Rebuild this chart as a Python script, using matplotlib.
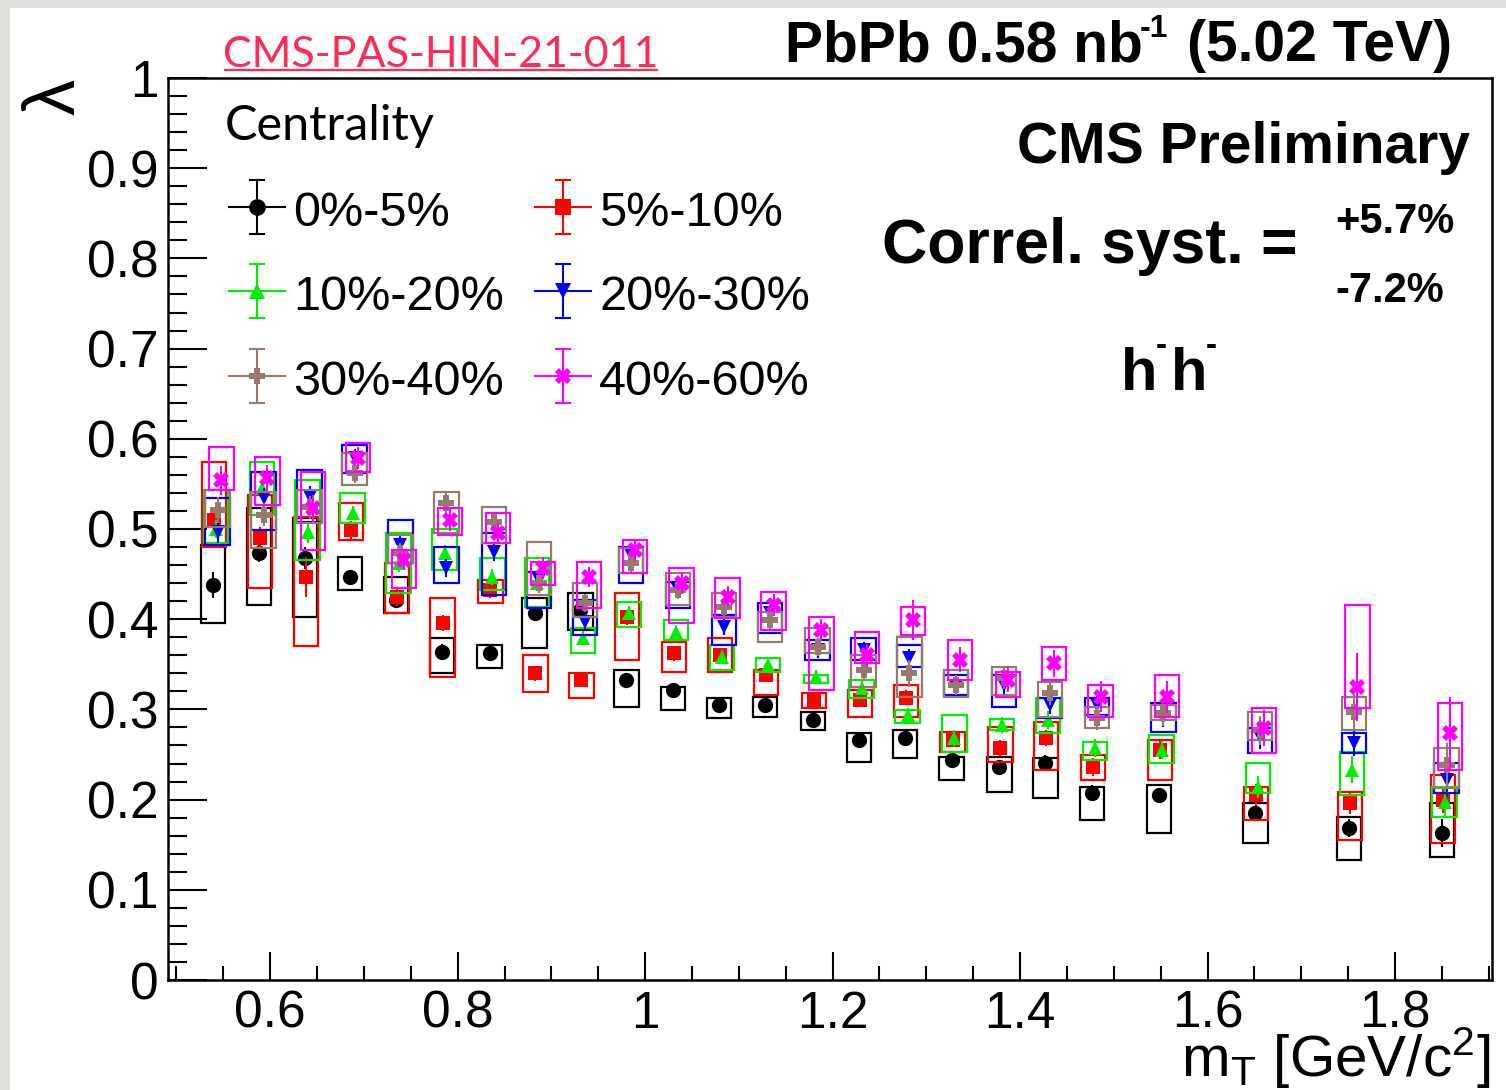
import matplotlib
matplotlib.use("Agg")
import matplotlib.pyplot as plt
from matplotlib.patches import Rectangle
from matplotlib.lines import Line2D

plt.rcParams['font.family'] = ['Liberation Sans', 'DejaVu Sans']
plt.rcParams['mathtext.fontset'] = 'custom'
plt.rcParams['mathtext.rm'] = 'Liberation Sans'
plt.rcParams['mathtext.it'] = 'Liberation Sans'
plt.rcParams['mathtext.bf'] = 'Liberation Sans:bold'

# mT bin centres (0-5% centrality), GeV/c^2
mt = [0.539, 0.588, 0.637, 0.685, 0.734, 0.783, 0.834, 0.882, 0.931, 0.980, 1.030, 1.079,
      1.128, 1.179, 1.228, 1.277, 1.327, 1.378, 1.427, 1.477, 1.548, 1.651, 1.751, 1.850]
# small shift of mean mT for each centrality class
mt_shift = [0.0, 0.001, 0.003, 0.005, 0.005, 0.009]

labels = ["0%-5%", "5%-10%", "10%-20%", "20%-30%", "30%-40%", "40%-60%"]
colors = ["black", "#ff0000", "#00ee00", "#0000ff", "#967b6c", "#ff00ff"]
markers = ["o", "s", "^", "v", "P", "X"]

lam_0_5 = [0.438, 0.473, 0.468, 0.447, 0.421, 0.364, 0.362, 0.407, 0.410, 0.333, 0.322, 0.305,
           0.305, 0.288, 0.266, 0.268, 0.244, 0.236, 0.241, 0.207, 0.205, 0.185, 0.169, 0.163]
lo_0_5 = [0.396, 0.416, 0.402, 0.432, 0.407, 0.340, 0.346, 0.368, 0.388, 0.303, 0.299, 0.290,
          0.292, 0.277, 0.242, 0.246, 0.222, 0.208, 0.202, 0.177, 0.163, 0.152, 0.133, 0.136]
hi_0_5 = [0.482, 0.523, 0.512, 0.469, 0.447, 0.379, 0.371, 0.424, 0.429, 0.344, 0.325, 0.313,
          0.314, 0.297, 0.274, 0.277, 0.247, 0.247, 0.246, 0.214, 0.216, 0.196, 0.181, 0.196]
err_0_5 = [0.014, 0.010, 0.012, 0.008, 0.008, 0.008, 0.007, 0.008, 0.008, 0.007, 0.006, 0.006,
           0.006, 0.006, 0.006, 0.006, 0.007, 0.007, 0.008, 0.009, 0.008, 0.008, 0.010, 0.015]

lam_5_10 = [0.510, 0.490, 0.447, 0.499, 0.425, 0.396, 0.432, 0.340, 0.333, 0.402, 0.362, 0.360,
            0.338, 0.310, 0.310, 0.313, 0.266, 0.257, 0.268, 0.236, 0.255, 0.205, 0.196, 0.200]
lo_5_10 = [0.480, 0.435, 0.370, 0.488, 0.407, 0.336, 0.418, 0.319, 0.313, 0.355, 0.341, 0.341,
           0.316, 0.302, 0.292, 0.292, 0.253, 0.242, 0.233, 0.222, 0.222, 0.177, 0.155, 0.152]
hi_5_10 = [0.574, 0.538, 0.513, 0.529, 0.462, 0.423, 0.443, 0.360, 0.340, 0.429, 0.375, 0.379,
           0.344, 0.318, 0.322, 0.327, 0.275, 0.280, 0.286, 0.249, 0.266, 0.214, 0.208, 0.227]
err_5_10 = [0.012, 0.012, 0.022, 0.010, 0.010, 0.009, 0.009, 0.008, 0.008, 0.008, 0.008, 0.008,
            0.007, 0.007, 0.007, 0.008, 0.008, 0.009, 0.009, 0.010, 0.010, 0.012, 0.012, 0.015]

lam_10_20 = [0.500, 0.545, 0.497, 0.518, 0.462, 0.473, 0.447, 0.440, 0.379, 0.407, 0.386, 0.358,
             0.349, 0.336, 0.324, 0.294, 0.268, 0.283, 0.288, 0.257, 0.255, 0.214, 0.233, 0.197]
lo_10_20 = [0.484, 0.516, 0.466, 0.507, 0.429, 0.455, 0.432, 0.414, 0.362, 0.391, 0.377, 0.344,
            0.341, 0.329, 0.313, 0.285, 0.253, 0.277, 0.274, 0.244, 0.241, 0.207, 0.205, 0.181]
hi_10_20 = [0.543, 0.574, 0.554, 0.540, 0.496, 0.500, 0.468, 0.468, 0.390, 0.419, 0.399, 0.371,
            0.357, 0.338, 0.333, 0.299, 0.294, 0.289, 0.313, 0.264, 0.272, 0.241, 0.253, 0.214]
err_10_20 = [0.010, 0.010, 0.012, 0.008, 0.010, 0.009, 0.009, 0.009, 0.008, 0.008, 0.008, 0.008,
             0.008, 0.008, 0.008, 0.008, 0.009, 0.009, 0.010, 0.010, 0.010, 0.012, 0.015, 0.015]

lam_20_30 = [0.497, 0.534, 0.536, 0.579, 0.482, 0.457, 0.474, 0.443, 0.397, 0.471, 0.432, 0.391,
             0.407, 0.366, 0.366, 0.357, 0.325, 0.327, 0.305, 0.305, 0.292, 0.269, 0.263, 0.222]
lo_20_30 = [0.482, 0.499, 0.508, 0.562, 0.462, 0.440, 0.427, 0.412, 0.382, 0.440, 0.412, 0.371,
            0.385, 0.355, 0.355, 0.347, 0.316, 0.303, 0.290, 0.294, 0.275, 0.252, 0.252, 0.207]
hi_20_30 = [0.534, 0.563, 0.565, 0.593, 0.510, 0.480, 0.496, 0.452, 0.421, 0.480, 0.441, 0.405,
            0.418, 0.377, 0.379, 0.371, 0.338, 0.338, 0.313, 0.313, 0.307, 0.279, 0.274, 0.241]
err_20_30 = [0.012, 0.012, 0.012, 0.010, 0.010, 0.010, 0.010, 0.009, 0.009, 0.009, 0.009, 0.009,
             0.009, 0.009, 0.009, 0.010, 0.010, 0.010, 0.010, 0.011, 0.012, 0.013, 0.015, 0.018]

lam_30_40 = [0.521, 0.516, 0.524, 0.562, 0.473, 0.529, 0.508, 0.440, 0.418, 0.462, 0.432, 0.414,
             0.399, 0.369, 0.344, 0.340, 0.327, 0.335, 0.318, 0.290, 0.296, 0.277, 0.297, 0.238]
lo_30_40 = [0.502, 0.479, 0.507, 0.549, 0.462, 0.496, 0.484, 0.427, 0.402, 0.451, 0.416, 0.402,
            0.375, 0.362, 0.325, 0.314, 0.314, 0.316, 0.292, 0.279, 0.288, 0.266, 0.277, 0.213]
hi_30_40 = [0.543, 0.541, 0.543, 0.584, 0.493, 0.541, 0.524, 0.486, 0.440, 0.479, 0.451, 0.429,
            0.408, 0.390, 0.360, 0.380, 0.344, 0.347, 0.330, 0.303, 0.305, 0.297, 0.314, 0.257]
err_30_40 = [0.014, 0.013, 0.013, 0.011, 0.011, 0.011, 0.011, 0.011, 0.010, 0.010, 0.010, 0.010,
             0.010, 0.010, 0.012, 0.015, 0.011, 0.012, 0.013, 0.013, 0.014, 0.016, 0.020, 0.025]

lam_40_60 = [0.554, 0.556, 0.523, 0.579, 0.466, 0.510, 0.496, 0.457, 0.447, 0.477, 0.440, 0.425,
             0.416, 0.388, 0.360, 0.399, 0.355, 0.333, 0.351, 0.314, 0.314, 0.279, 0.325, 0.274]
lo_40_60 = [0.543, 0.527, 0.477, 0.563, 0.435, 0.493, 0.484, 0.438, 0.412, 0.451, 0.396, 0.401,
            0.388, 0.322, 0.351, 0.382, 0.333, 0.314, 0.333, 0.292, 0.292, 0.252, 0.302, 0.233]
hi_40_60 = [0.591, 0.580, 0.563, 0.595, 0.477, 0.523, 0.518, 0.463, 0.463, 0.488, 0.457, 0.446,
            0.430, 0.402, 0.386, 0.414, 0.377, 0.341, 0.369, 0.327, 0.338, 0.302, 0.416, 0.307]
err_40_60 = [0.016, 0.015, 0.015, 0.012, 0.012, 0.012, 0.012, 0.012, 0.011, 0.012, 0.012, 0.012,
             0.012, 0.012, 0.013, 0.022, 0.014, 0.014, 0.015, 0.017, 0.018, 0.020, 0.038, 0.040]

lam_all = [lam_0_5, lam_5_10, lam_10_20, lam_20_30, lam_30_40, lam_40_60]
lo_all = [lo_0_5, lo_5_10, lo_10_20, lo_20_30, lo_30_40, lo_40_60]
hi_all = [hi_0_5, hi_5_10, hi_10_20, hi_20_30, hi_30_40, hi_40_60]
err_all = [err_0_5, err_5_10, err_10_20, err_20_30, err_30_40, err_40_60]

W, H = 1506, 1090
fig = plt.figure(figsize=(W / 100, H / 100), dpi=100, facecolor="#e1dfdb")
fig.add_artist(Rectangle((10 / W, 0), 1 - 10 / W, 1 - 8 / H, transform=fig.transFigure,
                         facecolor="white", edgecolor="none", zorder=-10))

ax = fig.add_axes([168 / W, 1 - 980 / H, (1492 - 168) / W, 902 / H])
ax.set_xlim(0.491, 1.9035)
ax.set_ylim(0, 1)

box_w = 0.026
for i in range(6):
    xs = [m + mt_shift[i] for m in mt]
    heights = [h - l for h, l in zip(hi_all[i], lo_all[i])]
    ax.bar(xs, heights, width=box_w, bottom=lo_all[i], fill=False,
           edgecolor=colors[i], linewidth=1.6, zorder=2 + i)
    ms = 11 if markers[i] in ("o", "X", "P") else 10
    ax.errorbar(xs, lam_all[i], yerr=err_all[i], fmt=markers[i], color=colors[i],
                ms=ms, mew=0, elinewidth=1.5, capsize=5, capthick=1.5, zorder=2.5 + i)

for s in ax.spines.values():
    s.set_linewidth(1.8)
ax.set_xticks([0.6, 0.8, 1.0, 1.2, 1.4, 1.6, 1.8])
ax.set_xticklabels(["0.6", "0.8", "1", "1.2", "1.4", "1.6", "1.8"])
ax.set_xticks([0.5 + 0.05 * k for k in range(29)], minor=True)
ax.set_yticks([0.1 * k for k in range(11)])
ax.set_yticklabels(["0", "0.1", "0.2", "0.3", "0.4", "0.5", "0.6", "0.7", "0.8", "0.9", "1"])
ax.set_yticks([0.02 * k for k in range(51)], minor=True)
ax.tick_params(axis="x", which="major", direction="in", length=20, width=1.5,
               labelsize=37, pad=7)
ax.tick_params(axis="x", which="minor", direction="in", length=10, width=1.5)
ax.tick_params(axis="y", which="major", direction="in", length=28, width=1.5,
               labelsize=37, pad=7)
ax.tick_params(axis="y", which="minor", direction="in", length=14, width=1.5)


def fx(px):
    return px / W


def fy(py):
    return 1 - py / H


# axis titles (ROOT style, at the ends of the axes)
fig.text(fx(1490), fy(1077), "m$_{\\mathrm{T}}$ [GeV/c$^{2}$]", fontsize=42,
         ha="right", va="baseline")
fig.text(fx(56), fy(97), "λ", fontsize=52, rotation=90, ha="center", va="center")


# legend drawn by hand (ROOT style)
def ax_pt(px, py):
    return (px - 168) / (1492 - 168), (980 - py) / 902


ax.text(*ax_pt(225, 140), "Centrality", transform=ax.transAxes, fontsize=35,
        family=["Lato", "DejaVu Sans"], va="baseline")
cols = [257, 563]
rows = [207, 291, 376]
for i in range(6):
    mx = cols[i % 2]
    my = rows[i // 2]
    x0, y0 = ax_pt(mx - 28, my)
    x1, _ = ax_pt(mx + 28, my)
    xm, ym = ax_pt(mx, my)
    _, ya = ax_pt(mx, my - 27)
    _, yb = ax_pt(mx, my + 27)
    xc0, _ = ax_pt(mx - 7, my)
    xc1, _ = ax_pt(mx + 7, my)
    kw = dict(transform=ax.transAxes, color=colors[i], lw=1.5, clip_on=False, zorder=20)
    ax.plot([x0, x1], [y0, y0], **kw)
    ax.plot([xm, xm], [ya, yb], **kw)
    ax.plot([xc0, xc1], [ya, ya], **kw)
    ax.plot([xc0, xc1], [yb, yb], **kw)
    ax.plot([xm], [ym], marker=markers[i], color=colors[i], ms=12, mew=0,
            transform=ax.transAxes, clip_on=False, zorder=21)
    ax.text(*ax_pt(mx + 36, my + 19), labels[i], transform=ax.transAxes, fontsize=35,
            va="baseline")

# header texts
fig.text(fx(441), fy(67), "CMS-PAS-HIN-21-011", fontsize=31, color="#ff2a55",
         family=["Lato", "DejaVu Sans"], ha="center", va="baseline")
fig.add_artist(Line2D([fx(225), fx(657)], [fy(70), fy(70)], color="#ff2a55", lw=1.6))

fig.text(fx(785), fy(61), "PbPb 0.58 nb", fontsize=41, fontweight="bold", va="baseline")
fig.text(fx(1140), fy(37), "-1", fontsize=23, fontweight="bold", va="baseline")
fig.text(fx(1452), fy(61), "(5.02 TeV)", fontsize=41, fontweight="bold",
         ha="right", va="baseline")

fig.text(fx(1470), fy(163), "CMS Preliminary", fontsize=41, fontweight="bold",
         ha="right", va="baseline")
fig.text(fx(882), fy(263), "Correl. syst. =", fontsize=45, fontweight="bold",
         va="baseline")
fig.text(fx(1335), fy(233), "+5.7%", fontsize=30, fontweight="bold", va="baseline")
fig.text(fx(1335), fy(302), "-7.2%", fontsize=30, fontweight="bold", va="baseline")

fig.text(fx(1121), fy(390), "h", fontsize=43, fontweight="bold", va="baseline")
fig.text(fx(1156), fy(355), "-", fontsize=24, fontweight="bold", va="baseline")
fig.text(fx(1171), fy(390), "h", fontsize=43, fontweight="bold", va="baseline")
fig.text(fx(1206), fy(355), "-", fontsize=24, fontweight="bold", va="baseline")

fig.savefig("out.png", dpi=100, facecolor=fig.get_facecolor())
